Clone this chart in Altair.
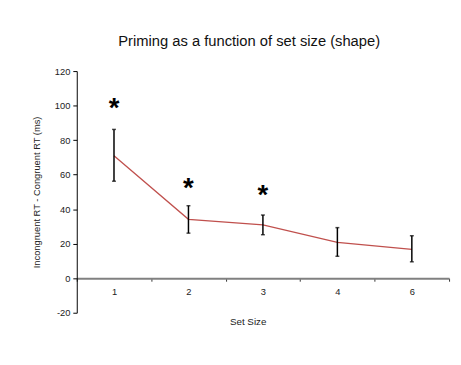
import altair as alt
import pandas as pd

# ---- data ----
set_sizes = ["1", "2", "3", "4", "6"]
priming = [70.9, 34.1, 30.9, 20.8, 16.7]
err_low = [56.2, 26.1, 25.2, 12.7, 9.5]
err_high = [86.2, 42.0, 36.6, 29.3, 24.6]
star_sizes = ["1", "2", "3"]
star_y = [100.7, 54.5, 50.2]
y_ticks = [-20, 0, 20, 40, 60, 80, 100, 120]

df = pd.DataFrame({"size": set_sizes, "rt": priming, "lo": err_low, "hi": err_high})
stars = pd.DataFrame({"size": star_sizes, "y": star_y, "label": ["*"] * len(star_sizes)})

FONT = "Liberation Sans"

x_axis = alt.Axis(
    title="Set Size",
    titleX=174,
    titleY=44,
    titleBaseline="middle",
    labelAngle=0,
    labelPadding=6,
    tickBand="extent",
    tickSize=3,
    tickColor="#333333",
    domainColor="#808080",
    domainWidth=2,
    offset=-35.1,
    grid=False,
)
y_axis = alt.Axis(
    title="Incongruent RT - Congruent RT (ms)",
    titleX=-41,
    titleBaseline="middle",
    values=y_ticks,
    tickCount=len(y_ticks),
    labelExpr="datum.value + ''",
    labelOverlap=False,
    labelPadding=3,
    tickSize=4,
    tickColor="#000000",
    domainColor="#000000",
    domainWidth=1,
    grid=False,
)
x_scale = alt.Scale(paddingInner=0, paddingOuter=0)
y_scale = alt.Scale(domain=[-20, 120], nice=False, zero=False)


def X():
    return alt.X("size:N", sort=set_sizes, scale=x_scale, axis=x_axis)


def Y(field):
    return alt.Y(field, scale=y_scale, axis=y_axis)


line = alt.Chart(df).mark_line(color="#c0504d", strokeWidth=1.3).encode(x=X(), y=Y("rt:Q"))

bars = alt.Chart(df).mark_rule(color="#000000", strokeWidth=1.5).encode(
    x=X(), y=Y("lo:Q"), y2="hi:Q"
)
caps_hi = alt.Chart(df).mark_tick(color="#000000", orient="horizontal", size=4, thickness=1.5).encode(
    x=X(), y=Y("hi:Q")
)
caps_lo = alt.Chart(df).mark_tick(color="#000000", orient="horizontal", size=4, thickness=1.5).encode(
    x=X(), y=Y("lo:Q")
)

star_marks = alt.Chart(stars).mark_text(
    font=FONT, fontSize=28, fontWeight="bold", color="#000000", baseline="alphabetic", dy=13
).encode(x=X(), y=Y("y:Q"), text="label:N")

chart = (
    alt.layer(line, bars, caps_hi, caps_lo, star_marks)
    .properties(
        width=379,
        height=246,
        autosize=alt.AutoSizeParams(type="none"),
        padding={"left": 70, "top": 61, "right": 4, "bottom": 50},
        background="white",
        title=alt.TitleParams(
            "Priming as a function of set size (shape)",
            font=FONT,
            fontSize=15,
            fontWeight="normal",
            color="#111111",
            anchor="middle",
            frame="group",
            dx=-14,
            baseline="alphabetic",
            offset=6,
        ),
    )
    .configure(font=FONT)
    .configure_axis(
        labelFont=FONT,
        titleFont=FONT,
        labelFontSize=9.5,
        titleFontSize=9.5,
        titleFontWeight="normal",
        labelColor="#222222",
        titleColor="#222222",
        labelOverlap=False,
    )
    .configure_axisX(titleFontSize=10)
    .configure_view(stroke=None)
)

chart.save("out.html", embed_options={"renderer": "svg", "actions": False})
